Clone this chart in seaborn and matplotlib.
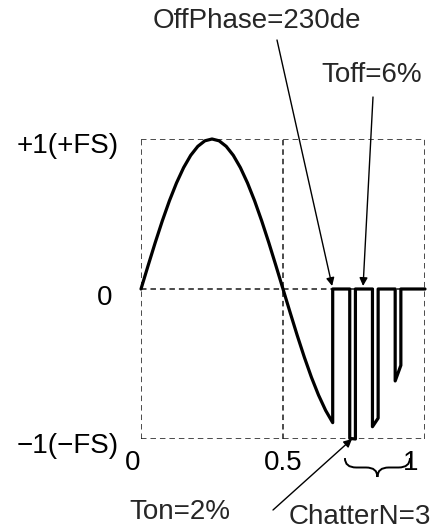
import numpy as np
import pandas as pd
import matplotlib
matplotlib.use("Agg")
import matplotlib.pyplot as plt
import seaborn as sns
from matplotlib.transforms import ScaledTranslation
from matplotlib.path import Path
from matplotlib.patches import PathPatch

# Waveform: sine part up to the relay opening
sine_t = [0.0, 0.025, 0.05, 0.075, 0.1, 0.125, 0.15, 0.175, 0.2, 0.225,
          0.25, 0.275, 0.3, 0.325, 0.35, 0.375, 0.4, 0.425, 0.45, 0.475,
          0.5, 0.525, 0.55, 0.575, 0.6, 0.625, 0.65, 0.675]
sine_v = [0.0, 0.156, 0.309, 0.454, 0.588, 0.707, 0.809, 0.891, 0.951, 0.988,
          1.0, 0.988, 0.951, 0.891, 0.809, 0.707, 0.588, 0.454, 0.309, 0.156,
          0.0, -0.156, -0.309, -0.454, -0.588, -0.707, -0.809, -0.891]

# Chatter part (off 6%, on 2%, 3 times)
chatter_t = [0.675, 0.735, 0.735, 0.755, 0.755, 0.815, 0.815, 0.835, 0.835,
             0.895, 0.895, 0.915, 0.915, 1.0]
chatter_v = [0.0, 0.0, -0.996, -1.0, 0.0, 0.0, -0.918, -0.861, 0.0,
             0.0, -0.613, -0.509, 0.0, 0.0]

x_ticks = [0, 0.5, 1]
x_labels = ["0", "0.5", "1"]
y_ticks = [1, 0, -1]
y_labels = ["+1(+FS)", "0", "\u22121(\u2212FS)"]

wave = pd.DataFrame({"t": sine_t + chatter_t, "v": sine_v + chatter_v})

sns.set_style("white")
plt.rcParams["font.family"] = ["Liberation Sans", "DejaVu Sans"]
FS = 20

W, H = 438, 530
fig = plt.figure(figsize=(W / 100, H / 100), dpi=100)
ax = fig.add_axes([141 / W, 91 / H, 284 / W, 300 / H])

# dashed frame and centre lines
for x in x_ticks:
    ax.axvline(x, color="#1a1a1a", lw=1.1, ls=(0, (3.6, 2.6)), zorder=1)
for y in y_ticks:
    ax.axhline(y, color="#1a1a1a", lw=1.1, ls=(0, (3.6, 2.6)), zorder=1)

sns.lineplot(data=wave, x="t", y="v", sort=False, estimator=None,
             color="black", lw=2.3, ax=ax, zorder=3)
ax.lines[-1].set_clip_on(False)

ax.set_xlim(0, 1)
ax.set_ylim(-1, 1)
ax.set_xlabel("")
ax.set_ylabel("")
ax.set_xticks(x_ticks)
ax.set_xticklabels(x_labels)
ax.set_yticks(y_ticks)
ax.set_yticklabels(y_labels)
ax.tick_params(axis="both", length=0, labelsize=FS, colors="black")
ax.tick_params(axis="x", pad=8)
ax.tick_params(axis="y", pad=16)
sns.despine(ax=ax, left=True, bottom=True)

# nudge tick labels as in the original drawing
for lab, dx in zip(ax.get_xticklabels(), [-8, 0, -14]):
    lab.set_transform(lab.get_transform() + ScaledTranslation(dx / 100, 0, fig.dpi_scale_trans))
for lab, (dx, dy) in zip(ax.get_yticklabels(), [(0, -4), (-6, -6), (0, -4)]):
    lab.set_transform(lab.get_transform() + ScaledTranslation(dx / 100, dy / 100, fig.dpi_scale_trans))

# annotations
arrow = dict(arrowstyle="-|>", color="black", lw=1, mutation_scale=12,
             shrinkA=0, shrinkB=0)
fig.text(257 / W, 1 - 28 / H, "OffPhase=230de", ha="center", va="baseline", fontsize=FS)
ax.annotate("", xy=(0.673, 0.02), xytext=(277, H - 40),
            textcoords="figure pixels", arrowprops=arrow)

fig.text(372 / W, 1 - 82 / H, "Toff=6%", ha="center", va="baseline", fontsize=FS)
ax.annotate("", xy=(0.782, 0.02), xytext=(373, H - 97),
            textcoords="figure pixels", arrowprops=arrow)

fig.text(180 / W, 1 - 519 / H, "Ton=2%", ha="center", va="baseline", fontsize=FS)
ax.annotate("", xy=(0.743, -1.0), xytext=(273, H - 510),
            textcoords="figure pixels", arrowprops=arrow)

fig.text(360 / W, 1 - 524 / H, "ChatterN=3", ha="center", va="baseline", fontsize=FS)

# curly brace under the chatter region
x0, x1, q = 0.718, 0.947, 0.04
xm = (x0 + x1) / 2
ytop, ymid, ytip = -1.127, -1.19, -1.253
verts = [(x0, ytop), (x0, ymid), (x0 + q, ymid), (xm - q, ymid), (xm, ymid), (xm, ytip),
         (xm, ymid), (xm + q, ymid), (x1 - q, ymid), (x1, ymid), (x1, ytop)]
codes = [Path.MOVETO, Path.CURVE3, Path.CURVE3, Path.LINETO, Path.CURVE3, Path.CURVE3,
         Path.CURVE3, Path.CURVE3, Path.LINETO, Path.CURVE3, Path.CURVE3]
ax.add_patch(PathPatch(Path(verts, codes), fill=False, lw=1.4, color="black",
                       clip_on=False, transform=ax.transData))

fig.savefig("out.png", dpi=100)
